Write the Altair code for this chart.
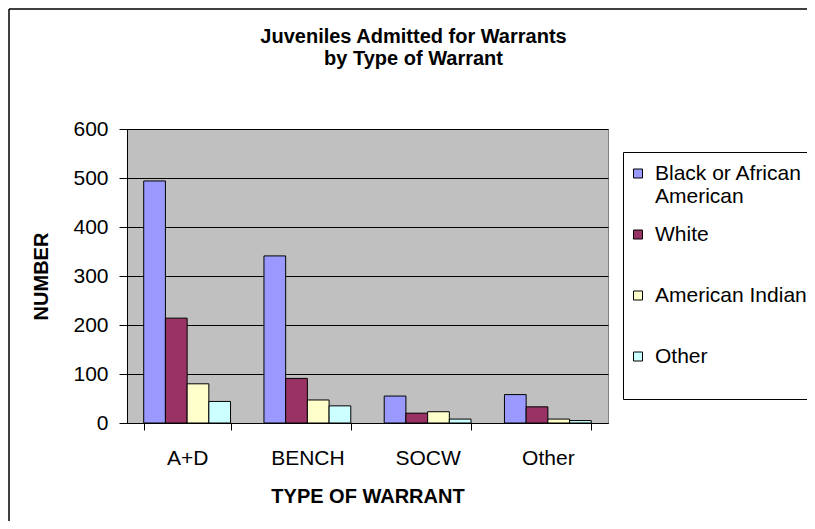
import altair as alt
import pandas as pd

# ---- data ----
categories = ["A+D", "BENCH", "SOCW", "Other"]
series = ["Black or African American", "White", "American Indian", "Other"]
black_vals = [494, 341, 55, 58]
white_vals = [214, 91, 20, 33]
am_indian_vals = [80, 47, 23, 8]
other_vals = [44, 35, 8, 5]
colors = ["#9999FF", "#993366", "#FFFFCC", "#CCFFFF"]
y_ticks = [0, 100, 200, 300, 400, 500, 600]

rows = []
for s, vals in zip(series, [black_vals, white_vals, am_indian_vals, other_vals]):
    for c, v in zip(categories, vals):
        rows.append({"warrant": c, "race": s, "number": v})
df = pd.DataFrame(rows)

FONT = "Liberation Sans"

bars = alt.Chart(df).mark_bar(stroke="#000000", strokeWidth=1).encode(
    x=alt.X(
        "warrant:N",
        sort=categories,
        scale=alt.Scale(paddingInner=0.278, paddingOuter=0.139),
        axis=alt.Axis(
            title="TYPE OF WARRANT",
            labelAngle=0,
            tickBand="extent",
            tickSize=7,
            labelPadding=17,
            titlePadding=18,
            labelFontSize=21,
            titleFontSize=20,
        ),
    ),
    xOffset=alt.XOffset("race:N", sort=series,
                        scale=alt.Scale(paddingInner=0, paddingOuter=0)),
    y=alt.Y(
        "number:Q",
        scale=alt.Scale(domain=[0, 600], nice=False),
        axis=alt.Axis(
            title="NUMBER",
            values=y_ticks,
            tickSize=8,
            labelPadding=11,
            titlePadding=21,
            labelFontSize=21,
            titleFontSize=20,
            grid=True,
        ),
    ),
    color=alt.Color(
        "race:N",
        sort=series,
        scale=alt.Scale(domain=series, range=colors),
        legend=alt.Legend(
            title=" ",
            titleFontSize=2,
            titlePadding=6,
            orient="none",
            legendX=496,
            legendY=23,
            direction="vertical",
            fillColor="#FFFFFF",
            strokeColor="#000000",
            padding=9,
            labelFont=FONT,
            labelFontSize=21,
            labelColor="#000000",
            labelBaseline="alphabetic",
            labelOffset=2,
            labelLimit=400,
            labelExpr=("datum.label == 'Black or African American' ? ['Black or African', 'American'] : "
                       "datum.label == 'Other' ? ['Other', ' '] : "
                       "datum.label == 'American Indian' ? 'American Indian\u00a0\u00a0\u00a0' : datum.label"),
            symbolType="M-2,-2.333H0V-0.333H-2Z",
            symbolSize=81,
            symbolStrokeColor="#000000",
            symbolStrokeWidth=1,
            symbolOpacity=1,
            gridAlign="all",
            rowPadding=16,
        ),
    ),
)

frame_df = pd.DataFrame({"f": [0]})
frame_top = alt.Chart(frame_df).mark_rule(color="#000000", strokeWidth=1.5).encode(
    x=alt.value(-118), x2=alt.value(1200), y=alt.value(-120)
)
frame_left = alt.Chart(frame_df).mark_rule(color="#000000", strokeWidth=1.5).encode(
    x=alt.value(-118), y=alt.value(-120), y2=alt.value(900)
)

chart = alt.layer(frame_top, frame_left, bars).properties(
    width=481,
    height=294,
    padding={"left": 119, "top": 121, "right": 199, "bottom": 98},
    autosize=alt.AutoSizeParams(type="none"),
    title=alt.TitleParams(
        text=["Juveniles Admitted for Warrants", "by Type of Warrant"],
        font=FONT,
        fontSize=20,
        fontWeight="bold",
        color="#000000",
        anchor="middle",
        frame="group",
        offset=0,
        dx=46,
        dy=61,
        lineHeight=22,
    ),
).configure(
    font=FONT,
    background="#FFFFFF",
).configure_view(
    fill="#C0C0C0", stroke="#808080", strokeWidth=1
).configure_axis(
    labelFont=FONT,
    titleFont=FONT,
    labelColor="#000000",
    titleColor="#000000",
    titleFontWeight="bold",
    domainColor="#000000",
    tickColor="#000000",
    gridColor="#000000",
    gridWidth=1,
    domainWidth=1,
    tickWidth=1,
)

chart.save("out.html", embed_options={"renderer": "svg", "actions": False})
